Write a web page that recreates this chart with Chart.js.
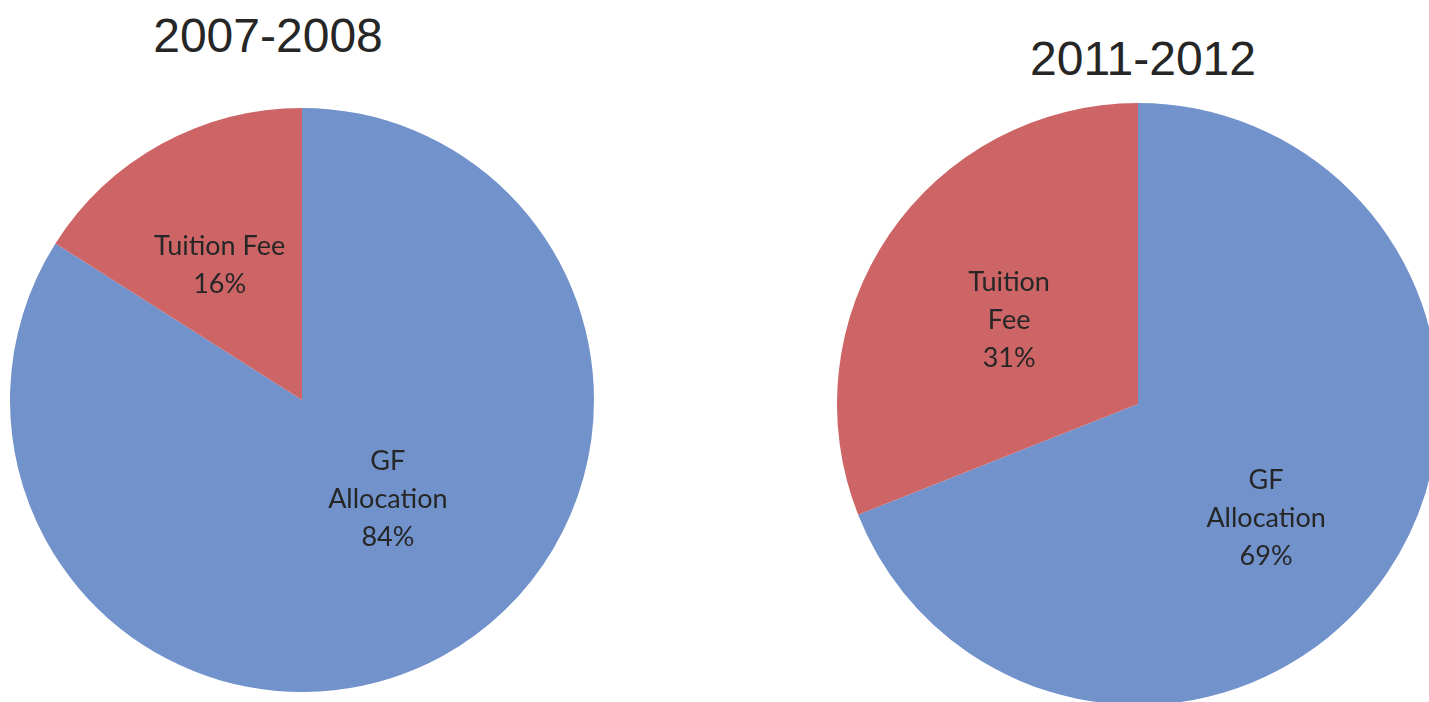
<!DOCTYPE html>
<html>
<head>
<meta charset="utf-8">
<script src="https://cdn.jsdelivr.net/npm/chart.js@4.4.1/dist/chart.umd.min.js"></script>
<style>
  html, body { margin: 0; padding: 0; background: #fff; }
  body { width: 1429px; height: 702px; overflow: hidden; position: relative; }
  .title { position: absolute; font-family: "Liberation Sans", Arial, sans-serif; font-size: 48px; color: #262626; transform: translateX(-50%); white-space: nowrap; line-height: 1; }
  canvas { position: absolute; }
</style>
</head>
<body>
<div class="title" id="t1" style="left:268px; top:12px;"></div>
<div class="title" id="t2" style="left:1143px; top:35px;"></div>
<canvas id="pie1" width="584" height="584" style="left:10px; top:108px;"></canvas>
<canvas id="pie2" width="602" height="602" style="left:837px; top:103px;"></canvas>
<script>
// funding split, percent of total
const years = ['2007-2008', '2011-2012'];
const categories = ['GF Allocation', 'Tuition Fee'];
const share0708 = [84, 16];
const share1112 = [69, 31];
// how each slice name is broken over lines inside the pie
const lines0708 = [['GF', 'Allocation'], ['Tuition Fee']];
const lines1112 = [['GF', 'Allocation'], ['Tuition', 'Fee']];

const sliceColors = ['#7192cb', '#cd6567'];

document.querySelector('#t1').textContent = years[0];
document.querySelector('#t2').textContent = years[1];

// writes "name / value%" inside each slice, near its middle
const sliceText = {
  id: 'sliceText',
  afterDatasetsDraw(chart, args, opts) {
    const ctx = chart.ctx;
    const meta = chart.getDatasetMeta(0);
    const values = chart.data.datasets[0].data;
    ctx.save();
    ctx.font = opts.size + 'px Lato, "Open Sans", sans-serif';
    ctx.fillStyle = '#262626';
    ctx.textAlign = 'center';
    ctx.textBaseline = 'middle';
    meta.data.forEach(function(arc, i){
      const mid = (arc.startAngle + arc.endAngle) / 2 + opts.turn[i] * Math.PI / 180;
      const r = arc.outerRadius * opts.fraction[i];
      const x = arc.x + Math.cos(mid) * r;
      const y = arc.y + Math.sin(mid) * r;
      const rows = opts.lines[i].concat([values[i] + '%']);
      const top = y - (rows.length - 1) * opts.lineHeight / 2;
      rows.forEach(function(row, k){
        ctx.fillText(row, x, top + k * opts.lineHeight);
      });
    });
    ctx.restore();
  }
};

function makePie(id, values, lines, fraction, turn){
  return new Chart(id, {
    type: 'pie',
    data: {
      labels: categories,
      datasets: [{
        data: values,
        backgroundColor: sliceColors,
        borderWidth: 0
      }]
    },
    options: {
      responsive: false,
      animation: false,
      layout: { padding: 0 },
      plugins: {
        legend: { display: false },
        tooltip: { enabled: false },
        sliceText: { lines: lines, fraction: fraction, turn: turn, size: 27, lineHeight: 38 }
      }
    },
    plugins: [sliceText]
  });
}

const chart1 = makePie('pie1', share0708, lines0708, [0.45, 0.54], [-12, -2.7]);
const chart2 = makePie('pie2', share1112, lines1112, [0.57, 0.51], [7.5, -1.3]);
</script>
</body>
</html>
